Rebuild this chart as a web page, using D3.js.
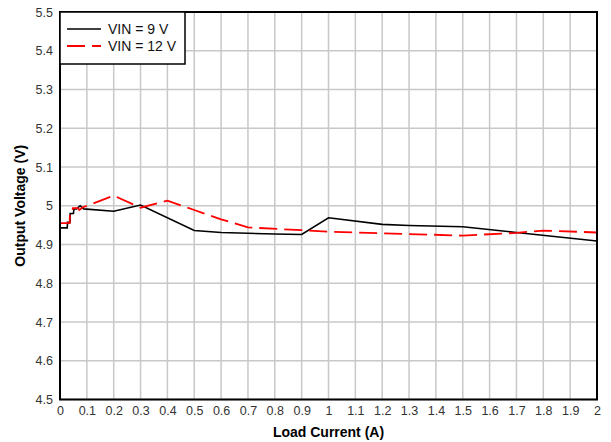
<!DOCTYPE html>
<html><head><meta charset="utf-8">
<script src="https://cdn.jsdelivr.net/npm/d3@7/dist/d3.min.js"></script>
<style>body{margin:0;background:#fff;} svg{display:block;}</style>
</head><body>
<svg id="c" width="611" height="442"></svg>
<script>
const current9 = [0, 0.027, 0.028, 0.037, 0.038, 0.05, 0.052, 0.062, 0.075, 0.088, 0.2, 0.3, 0.5, 0.6, 0.7, 0.8, 0.9, 1.0, 1.2, 1.3, 1.5, 1.7, 2.0];
const vin9    = [4.943, 4.943, 4.957, 4.957, 4.98, 4.98, 4.992, 4.992, 5.0, 4.992, 4.986, 5.002, 4.936, 4.931, 4.929, 4.927, 4.926, 4.969, 4.952, 4.949, 4.946, 4.931, 4.909];
const current12 = [0, 0.036, 0.037, 0.044, 0.048, 0.067, 0.072, 0.085, 0.2, 0.3, 0.4, 0.5, 0.6, 0.7, 0.9, 1.0, 1.2, 1.5, 1.7, 1.8, 2.0];
const vin12    = [4.955, 4.955, 4.979, 4.979, 4.994, 4.994, 4.989, 4.996, 5.026, 4.995, 5.013, 4.989, 4.965, 4.944, 4.937, 4.933, 4.929, 4.923, 4.930, 4.936, 4.931];
const xTicks = d3.range(0, 21).map(i => +(i * 0.1).toFixed(1));
const yTicks = d3.range(0, 11).map(i => +(4.5 + i * 0.1).toFixed(1));
const seriesNames = ["VIN = 9 V", "VIN = 12 V"];

const svg = d3.select("#c");
const L = 60, R = 597, T = 12, B = 399.5;
const x = d3.scaleLinear().domain([0, 2]).range([L, R]);
const y = d3.scaleLinear().domain([4.5, 5.5]).range([B, T]);
const font = "Liberation Sans, Arial, sans-serif";

// grid
svg.append("g").selectAll("line.v").data(xTicks).join("line")
  .attr("x1", d => x(d)).attr("x2", d => x(d)).attr("y1", T).attr("y2", B)
  .attr("stroke", "#c8c8c8").attr("stroke-width", 1.5);
svg.append("g").selectAll("line.h").data(yTicks).join("line")
  .attr("x1", L).attr("x2", R).attr("y1", d => y(d)).attr("y2", d => y(d))
  .attr("stroke", "#c8c8c8").attr("stroke-width", 1.5);

// axes labels via d3 axes
const xAxis = svg.append("g").attr("transform", `translate(0,${B})`)
  .call(d3.axisBottom(x).tickValues(xTicks).tickSize(0).tickPadding(7).tickFormat(d => d3.format("")(d)));
const yAxis = svg.append("g").attr("transform", `translate(${L},0)`)
  .call(d3.axisLeft(y).tickValues(yTicks).tickSize(0).tickPadding(7).tickFormat(d => d3.format("")(d)));
[xAxis, yAxis].forEach(a => {
  a.select(".domain").remove();
  a.selectAll("text").attr("font-family", font).attr("font-size", 12.5).attr("fill", "#333");
});

// lines
const line = d3.line().x(d => x(d[0])).y(d => y(d[1]));
svg.append("path").datum(current9.map((c, i) => [c, vin9[i]]))
  .attr("d", line).attr("fill", "none").attr("stroke", "#000").attr("stroke-width", 1.6);
svg.append("path").datum(current12.map((c, i) => [c, vin12[i]]))
  .attr("d", line).attr("fill", "none").attr("stroke", "#ff0000").attr("stroke-width", 1.8)
  .attr("stroke-dasharray", "18,7");

// border
svg.append("rect").attr("x", L).attr("y", T).attr("width", R - L).attr("height", B - T)
  .attr("fill", "none").attr("stroke", "#000").attr("stroke-width", 2);

// legend
const lg = svg.append("g");
lg.append("rect").attr("x", L).attr("y", T).attr("width", 125).attr("height", 52)
  .attr("fill", "#fff").attr("stroke", "#000").attr("stroke-width", 1.5);
const styles = [{c: "#000", d: null, w: 1.6}, {c: "#ff0000", d: "18,7", w: 1.8}];
seriesNames.forEach((n, i) => {
  const yy = T + 17 + i * 17;
  lg.append("line").attr("x1", 67).attr("x2", 101).attr("y1", yy).attr("y2", yy)
    .attr("stroke", styles[i].c).attr("stroke-width", styles[i].w)
    .attr("stroke-dasharray", styles[i].d);
  lg.append("text").attr("x", 108).attr("y", yy + 5).text(n)
    .attr("font-family", font).attr("font-size", 14).attr("fill", "#111");
});

// axis titles
svg.append("text").attr("x", (L + R) / 2).attr("y", 437).attr("text-anchor", "middle")
  .attr("font-family", font).attr("font-size", 14).attr("font-weight", "bold").text("Load Current (A)");
svg.append("text").attr("transform", `translate(25,${(T + B) / 2}) rotate(-90)`).attr("text-anchor", "middle")
  .attr("font-family", font).attr("font-size", 14).attr("font-weight", "bold").text("Output Voltage (V)");
</script>
</body></html>
